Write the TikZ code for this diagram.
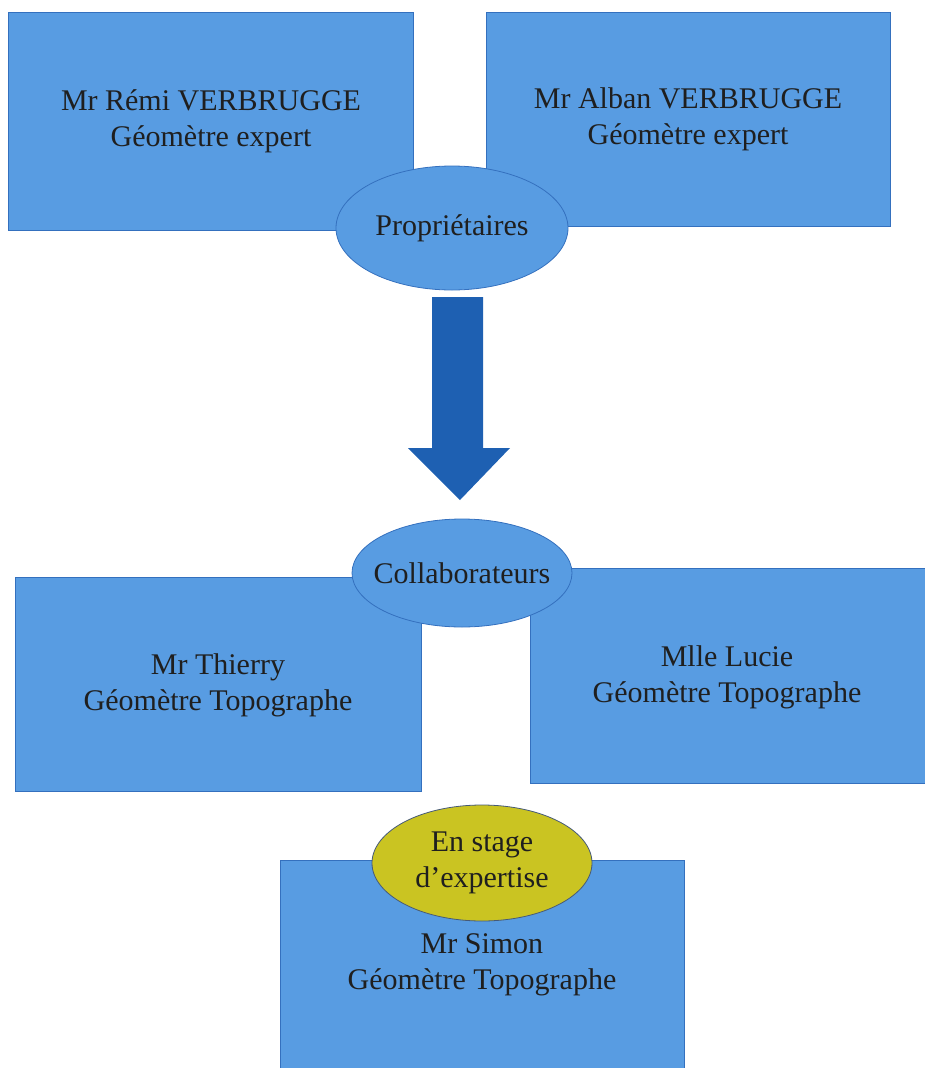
\documentclass[tikz,border=0pt]{standalone}
\usepackage{fontspec}
\setmainfont{Liberation Serif}
\usetikzlibrary{shapes.geometric}
\definecolor{boxblue}{RGB}{88,156,226}
\definecolor{edgeblue}{RGB}{52,112,190}
\definecolor{arrowblue}{RGB}{30,96,178}
\definecolor{stageyellow}{RGB}{202,196,34}
\definecolor{stageedge}{RGB}{70,90,120}
\tikzset{
  bluebox/.style={draw=edgeblue, line width=0.8pt, fill=boxblue},
  boxtext/.style={align=center, font=\fontsize{30}{36}\selectfont, text=black!88},
  blueoval/.style={ellipse, draw=edgeblue, line width=0.8pt, fill=boxblue, inner sep=0pt},
  yellowoval/.style={ellipse, draw=stageedge, line width=0.8pt, fill=stageyellow, inner sep=0pt}
}
\begin{document}
\begin{tikzpicture}[x=1pt,y=-1pt]
\useasboundingbox (0,0) rectangle (924,1068);
% boxes
\draw[bluebox] (8,12) rectangle (413,230);
\node[boxtext] (remi) at (211,121) {Mr Rémi VERBRUGGE\\Géomètre expert};
\draw[bluebox] (486,12) rectangle (890,226);
\node[boxtext] (alban) at (688,119) {Mr Alban VERBRUGGE\\Géomètre expert};
\draw[bluebox] (15,577) rectangle (421,791);
\node[boxtext] (thierry) at (218,685) {Mr Thierry\\Géomètre Topographe};
\draw[bluebox] (530,568) rectangle (930,783);
\node[boxtext] (lucie) at (727,677) {Mlle Lucie\\Géomètre Topographe};
\draw[bluebox] (280,860) rectangle (684,1075);
\node[boxtext] (simon) at (482,965) {Mr Simon\\Géomètre Topographe};
% ovals
\node[blueoval, minimum width=232pt, minimum height=124pt] (prop) at (452,228) {};
\node[boxtext] at (prop.center) {Propriétaires};
\node[blueoval, minimum width=220pt, minimum height=108pt] (collab) at (462,573) {};
\node[boxtext] at (collab.center) {Collaborateurs};
\node[yellowoval, minimum width=220pt, minimum height=116pt] (stage) at (482,863) {};
\node[boxtext] at (stage.center) {En stage\\d’expertise};
% block arrow
\fill[arrowblue] (432,297) -- (483,297) -- (483,448) -- (510,448) -- (460,500) -- (408,448) -- (432,448) -- cycle;
\end{tikzpicture}
\end{document}
